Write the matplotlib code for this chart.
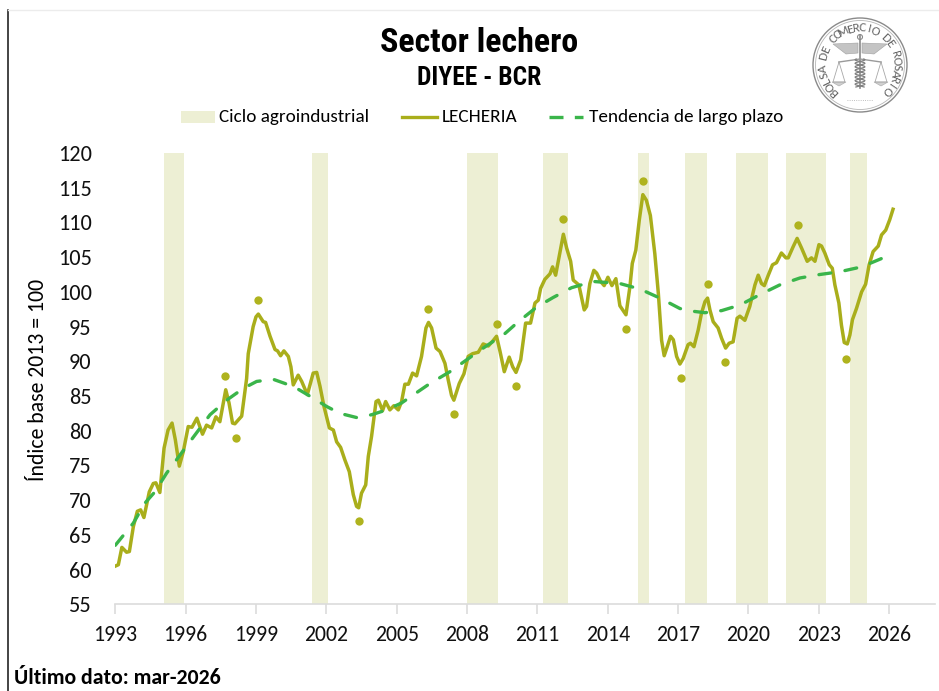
import numpy as np
import matplotlib
matplotlib.use("Agg")
import matplotlib.pyplot as plt
from matplotlib.patches import Circle, Polygon, Rectangle
from matplotlib.lines import Line2D

plt.rcParams['font.family'] = ['Carlito', 'Lato', 'DejaVu Sans']

# serie LECHERIA (anio, indice)
lech_x = [1993.00,1993.13,1993.28,1993.48,1993.60,1993.77,1993.94,1994.08,1994.22,1994.45,1994.62,1994.73,1994.90,
          1995.08,1995.25,1995.42,1995.56,1995.73,1995.90,1996.11,1996.27,1996.48,1996.72,1996.89,1997.11,1997.29,
          1997.46,1997.71,1997.85,1998.00,1998.10,1998.39,1998.50,1998.60,1998.67,1998.88,1999.00,1999.10,1999.31,
          1999.41,1999.60,1999.81,1999.92,2000.05,2000.19,2000.38,2000.49,2000.59,2000.80,2000.95,2001.19,2001.44,
          2001.59,2001.73,2001.90,2002.13,2002.30,2002.44,2002.61,2002.79,2002.98,2003.15,2003.29,2003.38,2003.50,
          2003.68,2003.79,2003.93,2004.12,2004.22,2004.40,2004.53,2004.71,2004.88,2005.07,2005.21,2005.35,2005.50,
          2005.68,2005.85,2006.06,2006.25,2006.36,2006.49,2006.68,2006.85,2007.06,2007.20,2007.34,2007.44,2007.67,
          2007.87,2008.05,2008.24,2008.48,2008.69,2008.91,2009.12,2009.26,2009.41,2009.59,2009.80,2009.95,2010.09,
          2010.29,2010.50,2010.71,2010.90,2011.04,2011.14,2011.32,2011.54,2011.65,2011.78,2011.96,2012.11,2012.25,
          2012.42,2012.53,2012.77,2012.89,2013.00,2013.10,2013.24,2013.41,2013.53,2013.70,2013.85,2014.01,2014.18,
          2014.35,2014.52,2014.78,2014.95,2015.05,2015.20,2015.35,2015.50,2015.65,2015.82,2016.01,2016.16,2016.30,
          2016.41,2016.54,2016.68,2016.80,2016.94,2017.08,2017.22,2017.43,2017.53,2017.68,2017.86,2018.00,2018.15,
          2018.26,2018.36,2018.50,2018.71,2018.86,2019.03,2019.18,2019.35,2019.52,2019.64,2019.85,2020.06,2020.28,
          2020.42,2020.56,2020.68,2020.85,2021.03,2021.20,2021.41,2021.60,2021.70,2021.91,2022.08,2022.27,2022.51,
          2022.69,2022.84,2023.01,2023.12,2023.26,2023.45,2023.58,2023.69,2023.86,2023.97,2024.09,2024.22,2024.33,
          2024.44,2024.61,2024.83,2025.00,2025.15,2025.32,2025.54,2025.68,2025.86,2026.03,2026.17]
lech_y = [60.5,60.7,63.2,62.5,62.6,66.2,68.4,68.6,67.5,71.2,72.4,72.5,71.1,
          77.5,80.1,81.1,78.7,74.9,77.0,80.6,80.5,81.8,79.5,80.8,80.4,82.0,
          81.3,85.9,84.0,81.1,81.0,82.1,84.9,87.5,91.1,95.0,96.4,96.8,95.7,
          95.6,93.6,91.7,91.5,90.8,91.5,90.7,89.2,86.6,88.0,87.1,85.2,88.3,
          88.4,86.4,83.5,80.4,80.1,78.4,77.6,75.8,74.1,70.8,69.1,68.9,71.0,
          72.2,76.3,79.2,84.2,84.4,82.9,84.2,83.0,83.6,83.0,84.2,86.7,86.7,
          88.3,87.9,90.7,94.8,95.6,94.8,91.9,91.4,89.7,87.3,85.1,84.4,86.8,
          88.2,90.7,91.1,91.3,92.5,92.2,93.0,93.6,91.4,88.5,90.6,89.2,88.4,
          90.2,95.5,95.5,98.4,98.8,100.5,101.8,102.6,103.6,102.4,105.6,108.3,106.3,
          104.4,101.7,101.0,99.1,97.4,97.9,101.2,103.1,102.7,101.5,100.9,102.1,100.9,
          101.9,98.0,96.7,100.8,104.1,106.0,110.4,114.0,113.2,111.0,105.5,99.8,93.0,
          90.8,92.1,93.6,93.1,90.7,89.6,90.4,92.4,92.6,92.1,94.5,96.9,98.6,
          99.1,97.4,95.7,94.8,93.3,91.9,92.6,92.8,96.2,96.5,95.9,97.9,101.0,
          102.4,101.2,100.9,102.4,103.9,104.2,105.6,104.9,104.9,106.5,107.7,106.3,104.4,
          104.9,104.4,106.8,106.6,105.6,103.9,103.4,101.0,98.4,95.2,92.7,92.5,93.8,
          96.0,97.6,100.0,101.1,103.9,105.8,106.6,108.2,108.9,110.4,111.9]

# tendencia de largo plazo
tend_x = [1993.00,1993.77,1994.27,1994.69,1995.19,1995.76,1996.40,1997.04,1997.75,1998.46,1999.03,1999.74,2000.24,
          2000.74,2001.44,2002.01,2002.58,2003.29,2003.93,2004.57,2005.21,2005.64,2006.42,2007.27,2007.98,2008.69,
          2009.62,2010.19,2010.97,2011.68,2012.46,2013.38,2014.52,2015.38,2016.23,2017.08,2017.65,2018.15,2018.86,
          2019.64,2020.49,2021.34,2022.20,2023.05,2023.90,2024.83,2025.75]
tend_y = [63.5,66.7,69.6,71.2,73.9,76.5,79.4,82.3,84.4,86.1,87.1,87.4,86.8,
          86.1,84.7,83.5,82.5,81.9,82.3,83.0,84.0,85.0,86.8,88.5,90.2,91.9,
          94.0,95.7,97.8,99.2,100.6,101.5,101.2,100.4,99.1,97.6,97.2,97.0,97.3,
          98.1,99.6,101.0,102.0,102.5,102.9,103.6,104.9]

# puntos de giro
giro_x = [1997.68,1998.13,1999.10,2003.38,2006.35,2007.44,2009.26,2010.09,2012.11,2014.78,2015.50,2017.11,2018.26,2019.01,2022.10,2024.17]
giro_y = [87.9,79.0,98.8,67.0,97.6,82.4,95.4,86.4,110.5,94.7,115.9,87.6,101.1,89.9,109.7,90.4]

# ciclos agroindustriales
ciclo_ini = [1995.08,2001.40,2007.98,2011.25,2015.30,2017.29,2019.47,2021.61,2024.33]
ciclo_fin = [1995.93,2002.07,2009.31,2012.29,2015.75,2018.22,2020.82,2023.29,2025.05]

x_ticks = list(range(1993, 2027, 3))
y_ticks = list(range(55, 125, 5))

OLIVA = '#A9AE1B'
BANDA = '#EDEFD4'
VERDE = '#3AB54A'
W, H = 939, 691

fig = plt.figure(figsize=(W/100, H/100), dpi=100, facecolor='white')
ax = fig.add_axes([115.3/W, 1-604.3/H, (935-115.3)/W, (604.3-153)/H])

for a, b in zip(ciclo_ini, ciclo_fin):
    ax.axvspan(a, b, color=BANDA, lw=0, zorder=1)
ax.plot(lech_x, lech_y, color=OLIVA, lw=2.5, zorder=3, solid_joinstyle='round')
ax.plot(tend_x, tend_y, color=VERDE, lw=2.4, zorder=4, dashes=(3.6, 4.3), dash_capstyle='round')
ax.scatter(giro_x, giro_y, s=36, color='#AFB31E', lw=0, zorder=5)

ax.set_xlim(1993, 2027.96)
ax.set_ylim(55, 120)
ax.set_xticks(x_ticks)
ax.set_yticks(y_ticks)
ax.tick_params(axis='x', length=7, width=1.2, color='#dcdcdc', labelsize=15.7, pad=8, labelcolor='#111111')
ax.tick_params(axis='y', length=0, labelsize=16, pad=17, labelcolor='#111111')
for s in ['top', 'right', 'left']:
    ax.spines[s].set_visible(False)
ax.spines['bottom'].set_color('#dcdcdc')
ax.spines['bottom'].set_linewidth(1.2)

fig.text(38/W, 1-380/H, 'Índice base 2013 = 100', rotation=90, ha='center', va='center', fontsize=15.7)

# titulos
titulo_fam = ['Roboto Condensed', 'Lato']
fig.text(479/W, 1-43/H, 'Sector lechero', ha='center', va='center', fontsize=24.5, fontweight='black',
         family=titulo_fam)
fig.text(479/W, 1-78/H, 'DIYEE - BCR', ha='center', va='center', fontsize=18.4, fontweight='black',
         family=titulo_fam)
fig.text(14/W, 1-678/H, 'Último dato: mar-2026', ha='left', va='center', fontsize=15.7, fontweight='bold')

# leyenda armada a mano para respetar las separaciones del original
fig.add_artist(Rectangle((181/W, 1-123/H), 34/W, 12/H, transform=fig.transFigure, color=BANDA, lw=0))
fig.add_artist(Line2D([402/W, 437/W], [1-117/H]*2, color=OLIVA, lw=2.4))
fig.add_artist(Line2D([549/W, 583/W], [1-117/H]*2, color=VERDE, lw=2.4, dashes=(4.2, 3.4)))
fig.text(219/W, 1-117/H, 'Ciclo agroindustrial', ha='left', va='center', fontsize=13.8)
fig.text(442/W, 1-117/H, 'LECHERIA', ha='left', va='center', fontsize=13.9)
fig.text(589/W, 1-117/H, 'Tendencia de largo plazo', ha='left', va='center', fontsize=13.8)

# marcos de la imagen
fig.add_artist(Line2D([8/W, 8/W], [0, 1-10/H], color='#111111', lw=1.1))
fig.add_artist(Line2D([8/W, 1], [1-10/H, 1-10/H], color='#ececec', lw=1))

# sello de la bolsa
logo = fig.add_axes([0, 0, 1, 1], facecolor='none')
logo.set_xlim(0, W)
logo.set_ylim(H, 0)
logo.axis('off')
cx, cy, r = 860, 65, 47
logo.add_patch(Circle((cx, cy), r, fill=False, ec='#8a8a8a', lw=1))
logo.add_patch(Circle((cx, cy), r-2.5, fill=False, ec='#b5b5b5', lw=0.6))
sello = 'BOLSA DE COMERCIO DE ROSARIO'
angs = np.linspace(226, -44, len(sello))
for ch, a in zip(sello, angs):
    t = np.radians(a)
    logo.text(cx+37*np.cos(t), cy-37*np.sin(t), ch, rotation=a-90, ha='center', va='center',
              fontsize=9.5, color='#666666', rotation_mode='anchor')
# caduceo con alas y balanza
logo.plot([cx, cx], [cy-30, cy+23], color='#8a8a8a', lw=1.2)
logo.add_patch(Circle((cx, cy-28), 2.5, fill=False, ec='#8a8a8a', lw=0.8))
for sx in (-1, 1):
    logo.add_patch(Polygon([(cx+sx*2, cy-22), (cx+sx*27, cy-21), (cx+sx*14, cy-11), (cx+sx*2, cy-12)],
                           fc='#c4c4c4', ec='#a0a0a0', lw=0.4))
    logo.plot([cx, cx+sx*21], [cy-6, cy-3], color='#9a9a9a', lw=1.0)
    logo.plot([cx+sx*21, cx+sx*27, cx+sx*15, cx+sx*21], [cy-3, cy+17, cy+17, cy-3], color='#a8a8a8', lw=0.6)
    logo.add_patch(Polygon([(cx+sx*14, cy+17), (cx+sx*28, cy+17), (cx+sx*21, cy+21)], fc='#d0d0d0', ec='#a8a8a8', lw=0.4))
sy = np.linspace(cy-6, cy+22, 40)
logo.plot(cx+5*np.sin((sy-cy)*0.9), sy, color='#808080', lw=0.9)
logo.plot(cx-5*np.sin((sy-cy)*0.9), sy, color='#808080', lw=0.9)
logo.plot([cx-13, cx+13], [cy+35, cy+35], color='#aaaaaa', lw=0.6, ls=':')

fig.savefig('out.png', dpi=100)
